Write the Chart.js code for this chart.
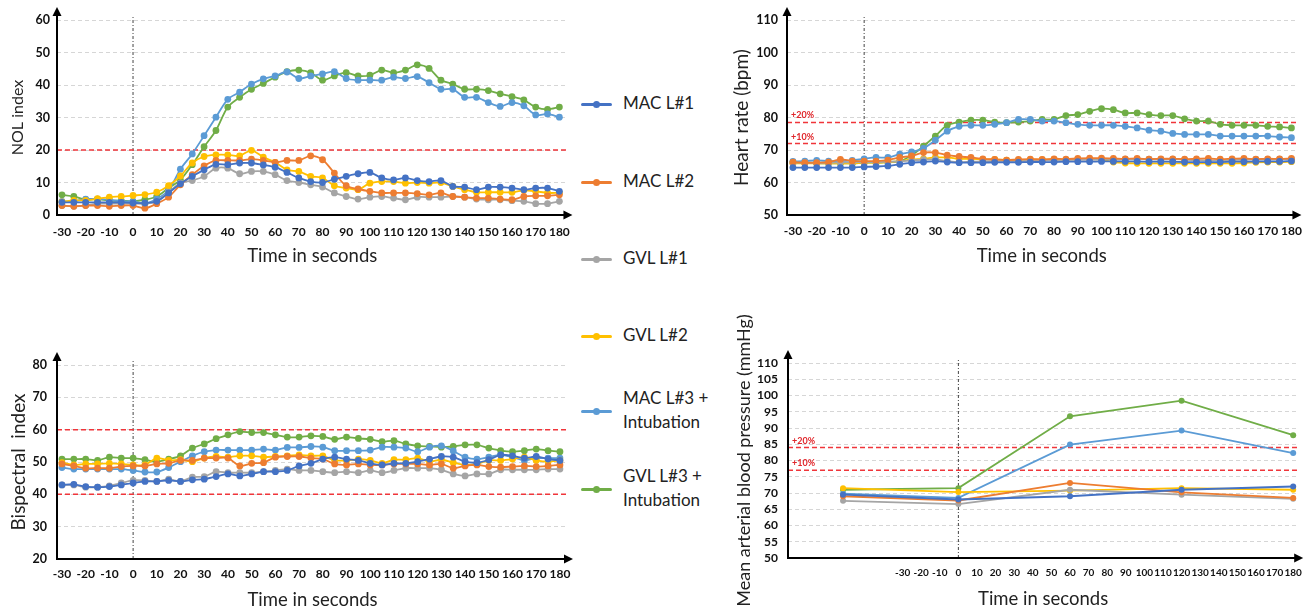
<!DOCTYPE html>
<html>
<head>
<meta charset="utf-8">
<script src="https://cdn.jsdelivr.net/npm/chart.js@4/dist/chart.umd.min.js"></script>
<style>
  body { margin: 0; background: #fff; width: 1311px; height: 613px; position: relative; overflow: hidden; font-family: Lato, "Open Sans", sans-serif; }
  .box { position: absolute; }
  .leg { position: absolute; left: 581px; font-size: 17px; color: #222; line-height: 24px; }
  .leg .mark { position: absolute; left: 0; width: 31px; height: 3px; border-radius: 2px; }
  .leg .mark::after { content: ''; position: absolute; left: 12px; top: -2px; width: 7px; height: 7px; border-radius: 50%; background: inherit; }
  .leg .txt { position: absolute; left: 42px; white-space: nowrap; }
</style>
</head>
<body>
<div class="box" style="left:0px;top:0px"><canvas id="nol" width="580" height="275"></canvas></div>
<div class="box" style="left:0px;top:340px"><canvas id="bis" width="580" height="275"></canvas></div>
<div class="box" style="left:725px;top:0px"><canvas id="hr" width="586" height="275"></canvas></div>
<div class="box" style="left:725px;top:300px"><canvas id="map" width="586" height="313"></canvas></div>
<div id="legend"></div>
<script>
// series names and colours
const seriesNames = ['MAC L#1', 'MAC L#2', 'GVL L#1', 'GVL L#2', 'MAC L#3 + Intubation', 'GVL L#3 + Intubation'];
const seriesColors = ['#4472C4', '#ED7D31', '#A5A5A5', '#FFC000', '#5B9BD5', '#70AD47'];

// time in seconds, one reading every 5 s
const times = [-30, -25, -20, -15, -10, -5, 0, 5, 10, 15, 20, 25, 30, 35, 40, 45, 50, 55, 60, 65, 70,
  75, 80, 85, 90, 95, 100, 105, 110, 115, 120, 125, 130, 135, 140, 145, 150, 155, 160, 165, 170, 175, 180];
const timeTicks = [-30, -20, -10, 0, 10, 20, 30, 40, 50, 60, 70, 80, 90, 100, 110, 120, 130, 140, 150, 160, 170, 180];
// blood pressure was measured only at baseline, 0, 60, 120, 180 s
const mapTimes = [-62, 0, 60, 120, 180];

// NOL index
const nolMac1 = [3.9, 3.9, 3.9, 3.9, 3.9, 3.9, 3.7, 3.7, 4.2, 6.8, 9.6, 11.9, 13.9, 15.6, 15.5, 16, 16, 15.4, 14.7, 13.1, 11.4,
  10.3, 10, 11, 11.9, 12.7, 13.1, 11.4, 10.8, 11.4, 10.6, 10.3, 10.6, 8.8, 8.6, 7.8, 8.6, 8.6, 8.3, 7.8, 8.3, 8.3, 7.3];
const nolMac2 = [2.9, 2.7, 2.9, 2.9, 2.7, 2.9, 2.9, 2.1, 3.5, 5.5, 9.3, 12.4, 15.1, 16.8, 16.8, 16.8, 17.2, 16.8, 16.2, 16.8, 16.8,
  18.2, 17, 12.9, 9, 8, 7.3, 6.8, 6.8, 6.8, 6.6, 6.2, 6.8, 5.7, 5.5, 5.2, 5.2, 4.9, 4.7, 5.7, 5.9, 5.9, 6.2];
const nolGvl1 = [2.9, 2.7, 2.9, 3.5, 3.5, 3.5, 3.5, 3.5, 4.2, 7, 9.8, 10.6, 11.9, 14.4, 14.4, 12.7, 13.4, 13.4, 12.4, 10.6, 10,
  9.3, 8.6, 6.8, 5.7, 4.9, 5.5, 5.7, 5.2, 4.7, 5.5, 5.5, 5.5, 5.7, 5.5, 4.9, 4.7, 4.7, 4.4, 4.2, 3.5, 3.5, 4.2];
const nolGvl2 = [4, 4.5, 4.5, 5, 5.5, 5.7, 6, 6.3, 7, 9, 12, 16, 18, 18.5, 18.5, 18.2, 19.9, 17.8, 16.2, 13.9, 13.4,
  11.9, 11.4, 9, 8.3, 7.8, 9.8, 10.3, 10.3, 9.8, 10, 9.8, 10, 8.8, 7.8, 7, 7, 7, 7, 7.6, 7.3, 6.8, 6.8];
const nolMac3 = [4.2, 4.2, 4.9, 4.9, 4.7, 4.2, 4.2, 3.5, 4.9, 7.6, 14.1, 18.8, 24.4, 30.1, 35.6, 37.8, 40.3, 41.9, 42.8, 44, 42,
  42.8, 43.4, 44.1, 42, 41.5, 41.5, 41.5, 42.4, 42, 42.6, 40.7, 38.7, 38.7, 36.2, 36.2, 34.6, 33.4, 34.6, 33.6, 30.8, 31.1, 30.1];
const nolGvl3 = [6.2, 5.7, 4.7, 4.9, 4.4, 4.4, 4.2, 4.7, 5.7, 8.3, 10.8, 15.5, 21, 26, 33.2, 36.2, 38.7, 40.5, 42.4, 44.1, 44.6,
  43.8, 41.5, 42.8, 43.8, 42.8, 43, 44.6, 43.8, 44.6, 46.2, 45.1, 41.5, 40.3, 38.7, 38.7, 38.3, 37.3, 36.4, 35.4, 33.2, 32.5, 33.2];
const nolTicks = [0, 10, 20, 30, 40, 50, 60];
const nolRefs = [20];

// Bispectral index
const bisMac1 = [42.9, 43.1, 42.4, 42.2, 42.4, 42.9, 43.5, 44, 44, 44.3, 44, 44.5, 44.7, 45.5, 46.3, 45.7, 46.3, 47, 47, 47.4, 48.8,
  49.6, 50.9, 51.5, 50.9, 50.5, 49.6, 49.1, 49.6, 49.6, 50.1, 50.9, 51.7, 51.5, 50.1, 49.8, 50.7, 52.2, 51.9, 51.2, 51.7, 50.9, 50.5];
const bisMac2 = [49.4, 48.8, 48.1, 48.1, 48.1, 48.6, 48.8, 48.8, 49.4, 49.6, 50.5, 50.5, 51.2, 51.2, 51.2, 48.8, 49.6, 49.8, 51.5, 51.7, 51.7,
  51.2, 50.9, 49.4, 49.1, 49.4, 49.1, 49.1, 49.4, 49.4, 49.4, 49.1, 49.4, 48.1, 48.8, 49.1, 48.6, 48.4, 48.6, 48.8, 48.6, 48.8, 49.1];
const bisGvl1 = [42.9, 42.9, 42.2, 42.2, 42.6, 43.5, 44.3, 44.3, 44, 44.7, 44, 45.3, 45.5, 47, 46.7, 46.7, 46.7, 47, 47.4, 47.8, 47.4,
  47.4, 47, 46.7, 47, 46.7, 47.4, 46.7, 47.4, 48.1, 48.1, 48.1, 47.6, 46.3, 45.7, 46.3, 46.3, 47.6, 47.6, 47.6, 47.6, 47.8, 47.8];
const bisGvl2 = [49.8, 49.1, 49.4, 49.4, 49.6, 49.4, 49.1, 49.1, 51.2, 50.5, 50.7, 50.1, 51.2, 51.7, 51.5, 51.9, 51.9, 51.5, 51.7, 51.9, 52.2,
  51.9, 51.9, 50.5, 50.5, 50.9, 50.5, 49.6, 50.7, 50.7, 51.2, 50.1, 50.7, 49.8, 49.1, 49.4, 50.5, 50.5, 50.9, 51.5, 50.5, 50.1, 50.5];
const bisMac3 = [48.3, 47.8, 47.8, 47.8, 47.8, 47.8, 47.4, 46.9, 46.9, 48.3, 50.1, 51.9, 53.2, 53.7, 53.7, 53.7, 53.7, 54, 53.7, 54.5, 54.5,
  54.8, 54.6, 53.5, 53.5, 53.5, 53.7, 54.6, 54.6, 54.3, 53.2, 54.6, 55, 53.4, 51.5, 50.9, 51.5, 52.2, 51.5, 50.5, 51.2, 51.2, 51.2];
const bisGvl3 = [50.9, 50.9, 50.9, 50.5, 51.5, 51.2, 51.2, 50.7, 50.1, 50.9, 51.9, 54.3, 55.6, 57.2, 58.4, 59.4, 59.1, 59.1, 58.4, 57.7, 57.7,
  58.1, 57.9, 57, 57.7, 57.3, 57, 56.3, 56.6, 55.6, 55, 54.8, 54.6, 54.8, 55.3, 55.3, 54.3, 53.5, 53.2, 53.5, 54, 53.5, 53.2];
const bisTicks = [20, 30, 40, 50, 60, 70, 80];
const bisRefs = [60, 40];

// Heart rate (bpm)
const hrMac1 = [64.6, 64.6, 64.6, 64.6, 64.6, 64.6, 64.8, 64.9, 65.1, 65.6, 66.1, 66.3, 66.6, 66.3, 66.1, 66.1, 66.1, 66.2, 66.2,
  66.2, 66.3, 66.3, 66.3, 66.4, 66.4, 66.4, 66.5, 66.5, 66.5, 66.5, 66.4, 66.4, 66.4, 66.3, 66.3, 66.3, 66.3, 66.4, 66.4, 66.5, 66.5, 66.5, 66.6];
const hrMac2 = [66.3, 66.1, 66.1, 66.3, 67.1, 66.6, 66.6, 66.6, 66.9, 67.7, 68.2, 69.2, 69.2, 68.4, 68, 67.7, 67.3, 67.1, 66.9,
  67.1, 67.2, 67.1, 67.3, 67.2, 67.4, 67.5, 67.5, 67.4, 67.3, 67.4, 67.2, 67.3, 67.3, 67.2, 67.3, 67.4, 67.2, 67.3, 67.4, 67.2, 67.3, 67.3, 67.4];
const hrGvl1 = [66.1, 66.1, 66, 66.1, 66.2, 66.2, 66.3, 66.3, 66.4, 66.5, 66.8, 67, 67.1, 66.6, 66.3, 66.4, 66.5, 66.6, 66.6,
  66.6, 66.7, 66.8, 66.8, 66.9, 67, 67, 67.1, 67.1, 67.2, 67.2, 67.2, 67.1, 67.2, 67, 66.9, 66.8, 66.8, 66.9, 67, 67.1, 67.1, 67.2, 67.2];
const hrGvl2 = [65.9, 65.9, 65.9, 65.9, 65.9, 65.9, 66.1, 66.1, 66.3, 66.6, 67.1, 67.3, 67.7, 67.7, 67.3, 67.3, 67.1, 67.1, 66.9,
  66.9, 67, 67, 67.1, 67, 67.2, 67.2, 67, 66.3, 66, 65.9, 65.9, 65.9, 65.9, 65.9, 65.9, 65.9, 65.9, 65.9, 66, 66.2, 66.3, 66.3, 66.4];
const hrMac3 = [66.5, 66.6, 66.8, 66.6, 66.6, 66.8, 67.3, 67.7, 67.7, 68.7, 69.4, 70.5, 73, 75.8, 77.3, 77.6, 77.6, 77.9, 78.4,
  79.4, 79.4, 78.9, 78.9, 78.4, 77.9, 77.6, 77.6, 77.6, 77.3, 76.8, 76.1, 75.8, 75.1, 74.8, 74.8, 74.8, 74.3, 74.3, 74.3, 74.3, 74.3, 74, 73.8];
const hrGvl3 = [66.3, 66.1, 65.9, 65.9, 65.9, 65.9, 66.1, 66.1, 66.3, 66.6, 68.4, 71.2, 74.3, 77.6, 78.6, 79.2, 79.2, 78.6, 78.4,
  78.6, 78.9, 79.4, 79.4, 80.6, 80.9, 81.9, 82.7, 82.4, 81.4, 81.4, 80.9, 80.6, 80.6, 79.6, 78.9, 78.9, 77.9, 77.6, 77.6, 77.6, 77.3, 77.1, 76.8];
const hrTicks = [50, 60, 70, 80, 90, 100, 110];
const hrRefs = [78.5, 72];
const pctLabels = ['+20%', '+10%'];

// Mean arterial blood pressure (mmHg)
const mapMac1 = [69.5, 68, 69, 71, 72];
const mapMac2 = [69, 67.7, 73.1, 70.2, 68.5];
const mapGvl1 = [67.6, 66.6, 71, 69.5, 68.2];
const mapGvl2 = [71.5, 70.3, 70.7, 71.5, 71];
const mapMac3 = [69.8, 68.5, 84.9, 89.2, 82.3];
const mapGvl3 = [71, 71.5, 93.6, 98.4, 87.8];
const mapTicks = [50, 55, 60, 65, 70, 75, 80, 85, 90, 95, 100, 105, 110];
const mapRefs = [84, 77];

const FONT = 'Lato, "Open Sans", sans-serif';

// dotted zero line, red limits, axes with arrows
const decor = {
  id: 'decor',
  beforeDatasetsDraw(chart, args, opts) {
    const { ctx, chartArea: a, scales: { x, y } } = chart;
    ctx.save();
    const x0 = x.getPixelForValue(0);
    ctx.strokeStyle = '#444';
    ctx.lineWidth = 1;
    ctx.setLineDash([3, 2, 1, 2]);
    ctx.beginPath();
    ctx.moveTo(x0, a.bottom);
    ctx.lineTo(x0, a.top - 5);
    ctx.stroke();

    ctx.strokeStyle = '#f0353a';
    ctx.lineWidth = 1.5;
    ctx.setLineDash([5, 3]);
    (opts.refs || []).forEach((v, i) => {
      const py = y.getPixelForValue(v);
      ctx.beginPath();
      ctx.moveTo(a.left, py);
      ctx.lineTo(a.right, py);
      ctx.stroke();
      if (opts.labels) {
        ctx.fillStyle = '#e0262b';
        ctx.font = 'bold 9px ' + FONT;
        ctx.fillText(opts.labels[i], a.left + 4, py - 4);
      }
    });
    ctx.restore();
  },
  afterDraw(chart) {
    const { ctx, chartArea: a } = chart;
    ctx.save();
    ctx.strokeStyle = '#000';
    ctx.fillStyle = '#000';
    ctx.lineWidth = 2;
    ctx.beginPath();
    ctx.moveTo(a.left, a.top - 6);
    ctx.lineTo(a.left, a.bottom);
    ctx.lineTo(a.right - 2, a.bottom);
    ctx.stroke();
    ctx.beginPath();
    ctx.moveTo(a.left, a.top - 13);
    ctx.lineTo(a.left - 4.5, a.top - 4);
    ctx.lineTo(a.left + 4.5, a.top - 4);
    ctx.fill();
    ctx.beginPath();
    ctx.moveTo(a.right + 5, a.bottom);
    ctx.lineTo(a.right - 4, a.bottom - 4.5);
    ctx.lineTo(a.right - 4, a.bottom + 4.5);
    ctx.fill();
    ctx.restore();
  }
};

function makeChart(id, xs, series, cfg) {
  const datasets = series.map((vals, i) => ({
    label: seriesNames[i],
    data: vals.map((v, j) => ({ x: xs[j], y: v })),
    borderColor: seriesColors[i],
    backgroundColor: seriesColors[i],
    borderWidth: 1.8,
    pointRadius: cfg.pointRadius || 3.4,
    pointBorderWidth: 0,
    tension: cfg.tension
  }));
  return new Chart(document.getElementById(id), {
    type: 'line',
    data: { datasets },
    plugins: [decor],
    options: {
      responsive: false,
      animation: false,
      layout: { padding: cfg.padding },
      plugins: {
        legend: { display: false },
        tooltip: { enabled: false },
        decor: { refs: cfg.refs, labels: cfg.refLabels }
      },
      scales: {
        x: {
          type: 'linear',
          min: cfg.xMin,
          max: cfg.xMax,
          afterBuildTicks: s => { s.ticks = timeTicks.map(v => ({ value: v })); },
          afterFit: s => { s.height = cfg.xHeight; },
          grid: { display: false, drawTicks: false },
          border: { display: false },
          ticks: { color: '#111', padding: cfg.xPad, maxRotation: 0, autoSkip: false,
                   font: { family: FONT, size: cfg.xFont, weight: 'bold' } },
          title: { display: true, text: 'Time in seconds', color: '#222', padding: { top: 2, bottom: 3 },
                   font: { family: FONT, size: 18.5 } }
        },
        y: {
          min: cfg.yTicks[0],
          max: cfg.yTicks[cfg.yTicks.length - 1],
          afterBuildTicks: s => { s.ticks = cfg.yTicks.map(v => ({ value: v })); },
          afterFit: s => { s.width = cfg.yWidth; },
          grid: { color: '#d6d6d6', lineWidth: 1, drawTicks: false },
          border: { display: false, dash: [4, 3] },
          ticks: { color: '#111', padding: cfg.yPad, autoSkip: false,
                   font: { family: FONT, size: cfg.yFont, weight: 'bold' } },
          title: { display: true, text: cfg.yTitle, color: '#222', padding: { top: cfg.yTitlePad, bottom: 0 },
                   font: { family: FONT, size: cfg.yTitleSize } }
        }
      }
    }
  });
}

makeChart('nol', times, [nolMac1, nolMac2, nolGvl1, nolGvl2, nolMac3, nolGvl3], {
  xMin: -32.1, xMax: 183.4, xHeight: 55, xPad: 10, xFont: 12,
  yTicks: nolTicks, yWidth: 57, yPad: 7, yFont: 12.5, yTitle: 'NOL index', yTitleSize: 16, yTitlePad: 8,
  padding: { top: 20, bottom: 5, right: 12, left: 0 }, refs: nolRefs, tension: 0.3
});

makeChart('bis', times, [bisMac1, bisMac2, bisGvl1, bisGvl2, bisMac3, bisGvl3], {
  xMin: -32.1, xMax: 183.4, xHeight: 55, xPad: 8, xFont: 12,
  yTicks: bisTicks, yWidth: 57, yPad: 10, yFont: 12.5, yTitle: 'Bispectral  index', yTitleSize: 19, yTitlePad: 7,
  padding: { top: 25, bottom: 1, right: 12, left: 0 }, refs: bisRefs, tension: 0.3
});

makeChart('hr', times, [hrMac1, hrMac2, hrGvl1, hrGvl2, hrMac3, hrGvl3], {
  xMin: -32.5, xMax: 182.1, xHeight: 55, xPad: 9, xFont: 12,
  yTicks: hrTicks, yWidth: 62, yPad: 9, yFont: 12.5, yTitle: 'Heart rate (bpm)', yTitleSize: 19, yTitlePad: 5,
  padding: { top: 20, bottom: 5, right: 14, left: 0 }, refs: hrRefs, refLabels: pctLabels, tension: 0.35
});

makeChart('map', mapTimes, [mapMac1, mapMac2, mapGvl1, mapGvl2, mapMac3, mapGvl3], {
  xMin: -91.6, xMax: 182.7, xHeight: 55, xPad: 9, xFont: 10,
  yTicks: mapTicks, yWidth: 63, yPad: 10, yFont: 12, yTitle: 'Mean arterial blood pressure (mmHg)', yTitleSize: 18, yTitlePad: 8,
  padding: { top: 63, bottom: 0, right: 11, left: 0 }, refs: mapRefs, refLabels: pctLabels, tension: 0, pointRadius: 3
});

// legend in the middle column
const legendTops = [91, 169, 246, 323, 386, 464];
const legend = document.getElementById('legend');
seriesNames.forEach((name, i) => {
  const item = document.createElement('div');
  item.className = 'leg';
  item.style.top = legendTops[i] + 'px';
  const parts = name.split(' + ');
  const lines = parts.length > 1 ? [parts[0] + ' +', parts[1]] : [name];
  const markTop = lines.length > 1 ? 24 : 12;
  item.innerHTML = '<div class="mark" style="top:' + markTop + 'px;background:' + seriesColors[i] + '"></div>' +
    '<div class="txt">' + lines.join('<br>') + '</div>';
  legend.appendChild(item);
});
</script>
</body>
</html>
